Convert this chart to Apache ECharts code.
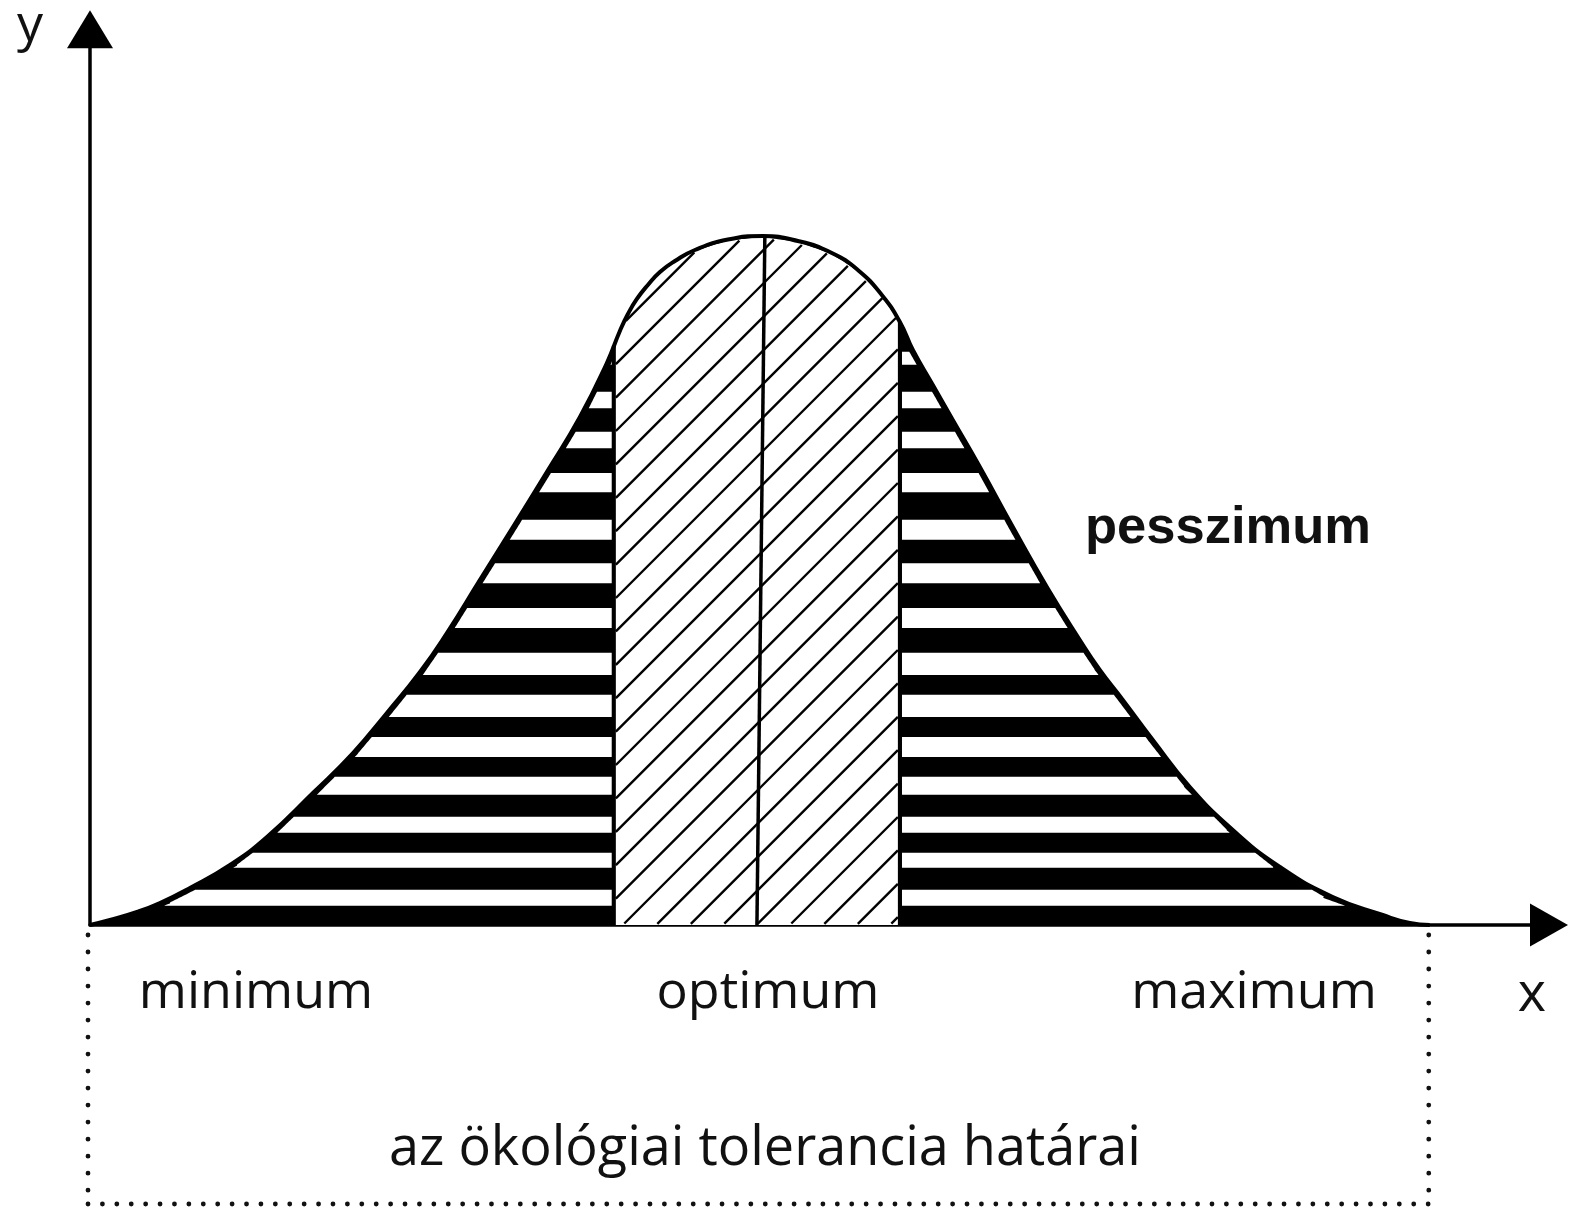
<!DOCTYPE html>
<html>
<head>
<meta charset="utf-8">
<script src="https://cdn.jsdelivr.net/npm/echarts@6/dist/echarts.min.js"></script>
<style>
  html, body { margin: 0; padding: 0; background: #fff; }
  #chart { width: 1574px; height: 1223px; }
</style>
</head>
<body>
<div id="chart"></div>
<script>
// Tolerance curve: response (y) along an environmental factor (x)
const curveX = [0, 1.49, 3.51, 5.22, 7.46, 10.45, 13.21, 16.64, 19.63, 22.16, 24.63, 26.64, 29.10, 31.57, 34.10, 36.57, 38.58, 39.55, 40.15, 40.82, 41.64, 42.54, 43.66, 45.15, 47.61, 50.22, 52.84, 55.37, 57.31, 59.10, 60.45, 61.42, 62.91, 64.40, 66.42, 68.88, 71.42, 73.88, 75.37, 77.09, 79.33, 82.09, 85.30, 88.81, 92.76, 96.49, 98.51, 100];
const curveY = [0, 0.73, 1.89, 3.19, 5.37, 8.71, 12.77, 19.16, 24.96, 30.77, 36.72, 42.38, 50.07, 57.76, 65.75, 73.73, 81.57, 86.21, 88.68, 90.86, 92.89, 94.78, 96.37, 97.97, 99.49, 100, 99.27, 97.53, 95.07, 91.44, 87.52, 83.45, 78.37, 73.29, 66.47, 57.76, 49.06, 41.36, 37.01, 32.66, 26.85, 20.03, 13.79, 8.42, 4.06, 1.45, 0.29, 0];

// white gaps in the striped pessimum zones (lower / upper response value)
const stripeLow  = [2.8, 8.3, 13.4, 18.9, 24.4, 30.2, 36.3, 43.1, 49.6, 55.9, 62.8, 69.2, 75.0, 81.3];
const stripeHigh = [5.1, 10.5, 15.7, 21.5, 27.3, 33.4, 39.5, 46.0, 52.5, 58.8, 65.6, 71.6, 77.4, 83.2];

// optimum zone on the x scale, and the optimum axis (bottom, top)
const optimumRange = [39.1, 60.45];
const optimumAxisX = [49.78, 50.37];
const optimumAxisY = [0, 100];

// limits of ecological tolerance on the x scale
const toleranceRange = [0, 100];

// texts
const zoneLabels = ['minimum', 'optimum', 'maximum'];
const pessimumLabel = 'pesszimum';
const toleranceLabel = 'az ökológiai tolerancia határai';
const axisNames = ['x', 'y'];

const curveData = curveX.map((x, i) => [x, curveY[i]]);
const curveSmooth = 0.5;

const chart = echarts.init(document.getElementById('chart'), null, { renderer: 'canvas' });

function renderZones(params, api) {
  const pts = curveX.map((x, i) => api.coord([x, curveY[i]]));
  let peak = 0;
  curveY.forEach((v, i) => { if (v > curveY[peak]) peak = i; });
  const base = api.coord([0, 0])[1];
  const children = [];

  // x of the curve at pixel height py on one flank, with local segment direction
  function flankX(py, left) {
    const a = left ? 0 : peak, b = left ? peak : pts.length - 1;
    for (let i = a; i < b; i++) {
      const p = pts[i], q = pts[i + 1];
      if ((py - p[1]) * (py - q[1]) <= 0 && p[1] !== q[1]) {
        const t = (py - p[1]) / (q[1] - p[1]);
        return { x: p[0] + t * (q[0] - p[0]), dx: q[0] - p[0], dy: q[1] - p[1] };
      }
    }
    return { x: left ? pts[a][0] : pts[b][0], dx: 1, dy: 1 };
  }
  // pixel height of the curve at pixel x
  function curveAt(px) {
    for (let i = 0; i < pts.length - 1; i++) {
      const p = pts[i], q = pts[i + 1];
      if (px >= p[0] && px <= q[0]) {
        return p[1] + (px - p[0]) / (q[0] - p[0]) * (q[1] - p[1]);
      }
    }
    return base;
  }

  const xo1 = api.coord([optimumRange[0], 0])[0];
  const xo2 = api.coord([optimumRange[1], 0])[0];
  const margin = 4;

  // white gaps of the striped zones, kept a little inside the curve outline
  stripeLow.forEach((lo, k) => {
    const yb = api.coord([0, lo])[1];
    const yt = api.coord([0, stripeHigh[k]])[1];
    [true, false].forEach(left => {
      const inner = left ? xo1 - 2 : xo2 + 2;
      const edge = [];
      const n = 14;
      for (let s = 0; s <= n; s++) {
        const py = yb + (yt - yb) * s / n;
        const f = flankX(py, left);
        const len = Math.hypot(f.dx, f.dy);
        const off = Math.min(margin * len / Math.max(Math.abs(f.dy), 0.001), 22);
        let x = left ? f.x + off : f.x - off;
        x = left ? Math.min(x, inner) : Math.max(x, inner);
        edge.push([x, py]);
      }
      children.push({
        type: 'polygon',
        shape: { points: edge.concat([[inner, yt], [inner, yb]]) },
        style: { fill: '#fff' }
      });
    });
  });

  // optimum zone: white body
  const body = [[xo1, base]];
  for (let px = xo1; px <= xo2; px += 2) body.push([px, curveAt(px) + 1]);
  body.push([xo2, curveAt(xo2) + 1], [xo2, base]);
  children.push({ type: 'polygon', shape: { points: body }, style: { fill: '#fff' } });

  // optimum zone: diagonal hatching
  const step = 33.4;
  const xa = xo1 + 2, xb = xo2 - 2;
  let c = base + xo1 + 9;
  while (c - step > xa + curveAt((xa + xb) / 2) - 40) c -= step;
  for (; c < base + xb + step; c += step) {
    let first = null, last = null;
    for (let px = xa; px <= xb; px += 0.5) {
      const py = c - px;
      if (py <= base - 1 && py >= curveAt(px) + 2) {
        if (!first) first = [px, py];
        last = [px, py];
      }
    }
    if (first && last && last[0] - first[0] > 1) {
      children.push({
        type: 'line',
        shape: { x1: first[0], y1: first[1], x2: last[0], y2: last[1] },
        style: { stroke: '#000', lineWidth: 2.4 }
      });
    }
  }

  // optimum zone borders
  [xo1, xo2].forEach(x => {
    children.push({
      type: 'line',
      shape: { x1: x, y1: base, x2: x, y2: curveAt(x) },
      style: { stroke: '#000', lineWidth: 4 }
    });
  });
  const axB = api.coord([optimumAxisX[0], optimumAxisY[0]]);
  const axT = api.coord([optimumAxisX[1], optimumAxisY[1]]);
  children.push({
    type: 'line',
    shape: { x1: axB[0], y1: axB[1], x2: axT[0], y2: axT[1] },
    style: { stroke: '#000', lineWidth: 3.5 }
  });

  // dotted bracket of the tolerance range
  const tL = api.coord([toleranceRange[0], 0])[0] - 2;
  const tR = api.coord([toleranceRange[1], 0])[0] - 1;
  const boxTop = base + 10, boxBottom = base + 279;
  const dots = { stroke: '#111', lineWidth: 4.8, lineCap: 'round', fill: null };
  children.push({
    type: 'polyline',
    shape: { points: [[tL, boxTop], [tL, boxBottom]] },
    style: Object.assign({ lineDash: [0.01, 17] }, dots)
  });
  children.push({
    type: 'polyline',
    shape: { points: [[tR, boxTop], [tR, boxBottom]] },
    style: Object.assign({ lineDash: [0.01, 17] }, dots)
  });
  children.push({
    type: 'polyline',
    shape: { points: [[tL, boxBottom], [tR, boxBottom]] },
    style: Object.assign({ lineDash: [0.01, 14.4] }, dots)
  });

  return { type: 'group', children: children };
}

function label(text, x, y, font, align) {
  return {
    type: 'text',
    x: x, y: y,
    silent: true,
    style: {
      text: text,
      font: font,
      fill: '#111',
      align: align || 'center',
      verticalAlign: 'middle',
      textAlign: align || 'center',
      textVerticalAlign: 'middle'
    }
  };
}

const labelFont = '52px "Open Sans"';

chart.setOption({
  animation: false,
  backgroundColor: '#fff',
  grid: { left: 90, right: 25, top: 29.3, bottom: 298, containLabel: false },
  xAxis: {
    type: 'value', min: 0, max: 108.9,
    axisLine: { show: true, symbol: ['none', 'triangle'], symbolSize: [43, 38], lineStyle: { color: '#000', width: 3.5 } },
    axisTick: { show: false }, axisLabel: { show: false }, splitLine: { show: false }
  },
  yAxis: {
    type: 'value', min: 0, max: 130,
    axisLine: { show: true, symbol: ['none', 'triangle'], symbolSize: [46, 38], lineStyle: { color: '#000', width: 3.5 } },
    axisTick: { show: false }, axisLabel: { show: false }, splitLine: { show: false }
  },
  series: [
    {
      name: 'area', type: 'line', data: curveData, smooth: curveSmooth,
      showSymbol: false, z: 2, silent: true,
      lineStyle: { width: 0 },
      areaStyle: { color: '#000', opacity: 1 }
    },
    {
      name: 'zones', type: 'custom', coordinateSystem: 'cartesian2d',
      data: [[0, 0]], renderItem: renderZones, clip: false, z: 3, silent: true
    },
    {
      name: 'curve', type: 'line', data: curveData, smooth: curveSmooth,
      showSymbol: false, z: 4, silent: true,
      lineStyle: { color: '#000', width: 4 }
    }
  ],
  graphic: [
    label(axisNames[1], 30, 26, labelFont),
    label(axisNames[0], 1532, 996, '54px "Open Sans"'),
    label(zoneLabels[0], 256, 993, labelFont),
    label(zoneLabels[1], 768, 993, labelFont),
    label(zoneLabels[2], 1254, 993, labelFont),
    label(toleranceLabel, 765, 1150, '54px "Open Sans"'),
    label(pessimumLabel, 1085, 529, 'bold 52.5px "Liberation Sans", Arial, sans-serif', 'left')
  ]
});
</script>
</body>
</html>
